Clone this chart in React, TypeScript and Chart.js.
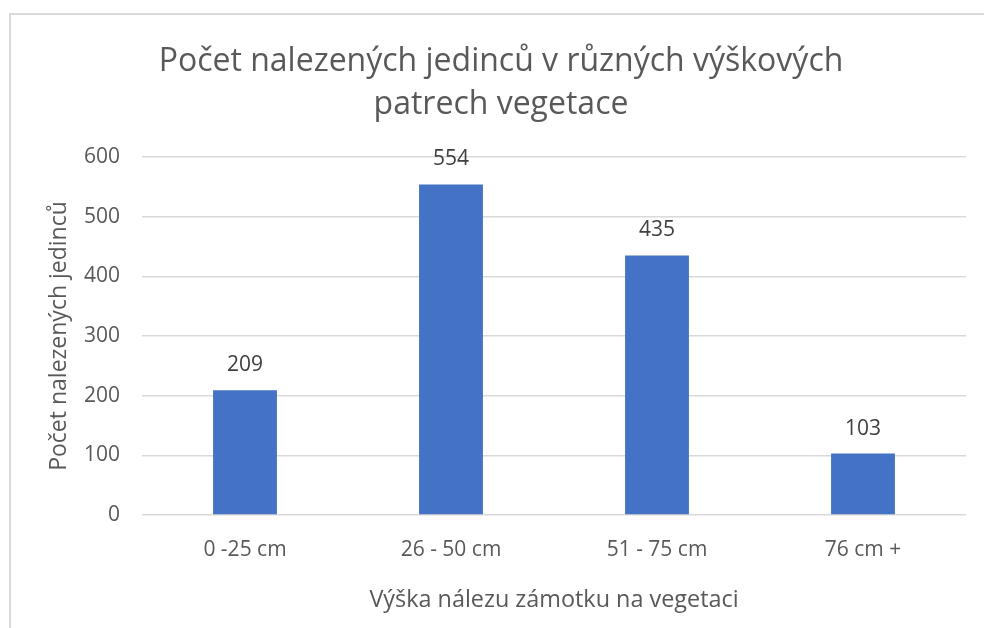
import React, { useEffect, useRef } from "react";
import { Chart, registerables } from "chart.js";

Chart.register(...registerables);

const categories = ["0 -25 cm", "26 - 50 cm", "51 - 75 cm", "76 cm +"];
const counts = [209, 554, 435, 103];
const titleLines = ["Počet nalezených jedinců v různých výškových", "patrech vegetace"];
const xTitle = "Výška nálezu zámotku na vegetaci";
const yTitle = "Počet nalezených jedinců";
const yMin = 0;
const yMax = 600;
const yStep = 100;

const FONT = "'Open Sans', sans-serif";

const valueLabels = {
  id: "valueLabels",
  afterDatasetsDraw(chart: any) {
    const ctx = chart.ctx;
    ctx.save();
    ctx.font = `21px ${FONT}`;
    ctx.fillStyle = "#404040";
    ctx.textAlign = "center";
    ctx.textBaseline = "middle";
    chart.data.datasets.forEach((ds: any, di: number) => {
      const meta = chart.getDatasetMeta(di);
      meta.data.forEach((bar: any, i: number) => {
        ctx.fillText(String(ds.data[i]), bar.x, bar.y - 25);
      });
    });
    ctx.restore();
  },
};

export default function App() {
  const ref = useRef<HTMLCanvasElement | null>(null);
  useEffect(() => {
    if (!ref.current) return;
    const chart = new Chart(ref.current, {
      type: "bar",
      data: {
        labels: categories,
        datasets: [
          {
            data: counts,
            backgroundColor: "#4472C4",
            borderWidth: 0,
            categoryPercentage: 1,
            barPercentage: 0.31,
          },
        ],
      },
      options: {
        responsive: false,
        animation: false,
        devicePixelRatio: 1,
        layout: { padding: 0 },
        plugins: {
          legend: { display: false },
          tooltip: { enabled: false },
          title: {
            display: true,
            text: titleLines,
            color: "#595959",
            font: { family: FONT, size: 32, weight: "normal", lineHeight: 43 / 32 },
            padding: { top: 40.5, bottom: 30.5 },
          },
        },
        scales: {
          x: {
            grid: { display: false, drawTicks: false },
            border: { display: false },
            ticks: { color: "#595959", font: { family: FONT, size: 21 }, padding: 22, maxRotation: 0 },
            title: {
              display: true,
              text: xTitle,
              color: "#595959",
              font: { family: FONT, size: 23.4 },
              padding: { top: 0, bottom: 14 },
            },
            afterFit(scale: any) {
              scale.height = 113;
            },
          },
          y: {
            min: yMin,
            max: yMax,
            grid: { color: "#d9d9d9", lineWidth: 1.5, drawTicks: false },
            border: { display: false },
            ticks: { stepSize: yStep, color: "#595959", font: { family: FONT, size: 21 }, padding: 22 },
            title: {
              display: true,
              text: yTitle,
              color: "#595959",
              font: { family: FONT, size: 23 },
              padding: { top: 10, bottom: 0 },
            },
            afterFit(scale: any) {
              scale.width = 106;
            },
          },
        },
      },
      plugins: [valueLabels],
    });
    return () => chart.destroy();
  }, []);

  return (
    <div style={{ position: "fixed", left: 0, top: 0, width: 984, height: 628, overflow: "hidden", background: "#fff" }}>
      <div
        style={{
          position: "absolute",
          left: 9,
          top: 13,
          width: 1100,
          height: 800,
          border: "2px solid #d9d9d9",
          boxSizing: "border-box",
        }}
      />
      <canvas ref={ref} width={930} height={628} style={{ position: "absolute", left: 36, top: 0, width: 930, height: 628 }} />
    </div>
  );
}
